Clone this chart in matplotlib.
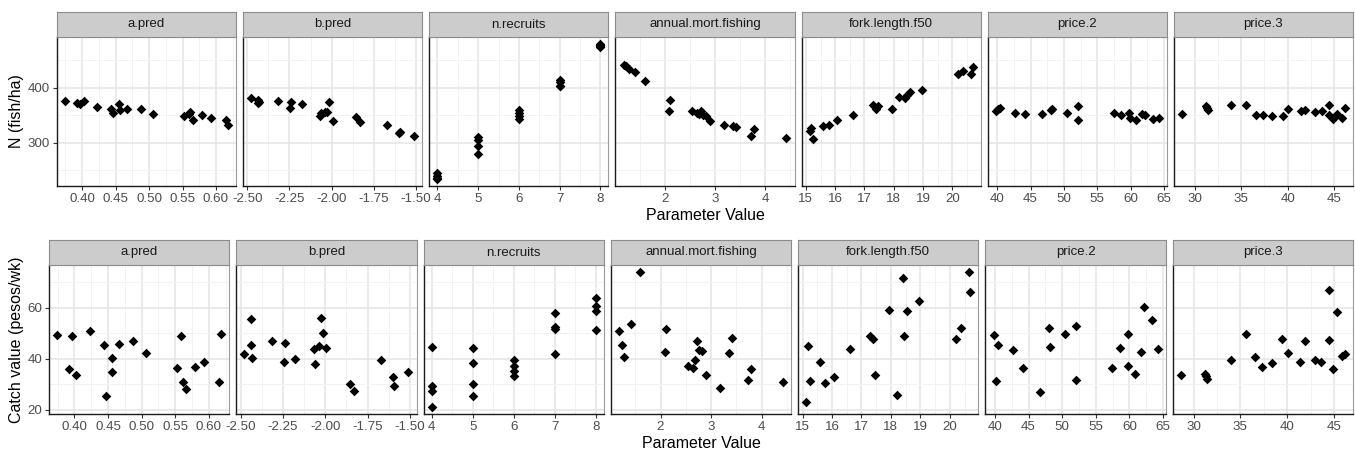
import matplotlib
matplotlib.use("Agg")
import matplotlib.pyplot as plt
from matplotlib.ticker import MultipleLocator, FormatStrFormatter

# parameter names (facet order)
params = ["a.pred", "b.pred", "n.recruits", "annual.mort.fishing",
          "fork.length.f50", "price.2", "price.3"]

# parameter values (same runs in both rows)
a_pred_x = [0.3745, 0.392, 0.396, 0.4025, 0.4225, 0.4435, 0.4465, 0.4555, 0.4565, 0.4665,
            0.4875, 0.506, 0.552, 0.559, 0.561, 0.5655, 0.579, 0.593, 0.6145, 0.618]
b_pred_x = [-2.477, -2.440, -2.436, -2.430, -2.317, -2.240, -2.244, -2.177, -2.069, -2.060,
            -2.037, -2.027, -2.014, -1.994, -1.853, -1.829, -1.669, -1.598, -1.594, -1.509]
n_recruits_x = [4, 4, 4, 4, 5, 5, 5, 5, 6, 6, 6, 6, 7, 7, 7, 7, 8, 8, 8, 8]
annual_x = [1.18, 1.235, 1.28, 1.41, 1.60, 2.10, 2.08, 2.55, 2.64, 2.68,
            2.73, 2.76, 2.81, 2.90, 3.18, 3.35, 3.41, 3.72, 3.78, 4.42]
fork_x = [15.13, 15.19, 15.25, 15.6, 15.78, 16.06, 16.6, 17.28, 17.4, 17.46,
          17.94, 18.19, 18.4, 18.44, 18.56, 18.96, 20.2, 20.36, 20.64, 20.69]
price2_x = [39.8, 40.1, 40.45, 42.74, 44.23, 46.65, 48.0, 48.15, 50.45, 52.1,
            52.05, 57.47, 58.55, 59.78, 59.86, 60.78, 61.65, 62.15, 63.32, 64.18]
price3_x = [28.65, 31.23, 31.37, 31.46, 33.95, 35.58, 36.6, 37.31, 38.34, 39.5, 40.09,
            41.41, 41.87, 42.97, 43.65, 44.49, 44.49, 44.9, 45.3, 45.85, 46.16]

# N (fish/ha)
a_pred_n = [375.4, 373.1, 370.7, 376.0, 364.7, 361.7, 355.1, 370.7, 359.3, 362.3,
            362.3, 353.3, 348.5, 352.1, 355.7, 341.3, 350.9, 346.1, 341.9, 332.9]
b_pred_n = [381.4, 377.2, 372.5, 374.9, 376.0, 374.3, 364.1, 371.3, 349.1, 353.9,
            355.7, 355.7, 373.7, 338.9, 346.7, 337.1, 332.9, 317.4, 319.8, 312.0]
n_recruits_n = [245, 240, 237, 234, 310, 306, 295, 280, 360, 355, 348, 343,
                415, 410, 404, 403, 480, 477, 474, 476]
annual_n = [441.9, 439.5, 434.7, 428.1, 412.0, 377.8, 357.5, 357.5, 355.1, 352.1,
            357.5, 350.9, 348.5, 339.5, 332.3, 330.5, 328.1, 312.0, 325.1, 309.6]
fork_n = [321.0, 327.0, 307.2, 330.0, 332.3, 341.3, 350.3, 368.9, 361.7, 367.7,
          361.7, 383.8, 382.0, 386.8, 391.6, 395.8, 425.7, 431.1, 425.7, 437.1]
price2_n = [358.1, 361.7, 364.1, 355.1, 352.7, 352.7, 359.3, 361.7, 355.1, 366.5,
            341.3, 355.1, 350.3, 355.1, 346.1, 341.3, 352.7, 350.3, 343.7, 346.1]
price3_n = [353.3, 367.7, 362.9, 359.3, 369.5, 369.5, 350.9, 350.9, 348.5, 348.5, 362.3,
            357.5, 359.9, 355.7, 357.5, 369.5, 350.9, 343.7, 353.3, 346.1, 362.9]

# Catch value (pesos/wk)
a_pred_catch = [49.3, 36.1, 48.8, 33.4, 50.9, 45.3, 25.4, 40.3, 34.7, 45.8,
                46.8, 42.2, 36.4, 48.8, 30.8, 27.9, 36.8, 38.8, 30.8, 49.7]
b_pred_catch = [41.7, 55.8, 45.3, 40.3, 46.8, 46.3, 38.7, 39.7, 43.7, 37.8,
                45.0, 56.2, 50.3, 44.2, 29.9, 27.2, 39.3, 32.8, 29.2, 34.7]
n_recruits_catch = [44.7, 29.2, 27.4, 20.9, 44.3, 38.3, 29.9, 25.3, 39.3, 37.1, 35.0, 33.2,
                    57.8, 52.4, 51.6, 41.7, 63.7, 60.8, 58.7, 51.2]
annual_catch = [50.8, 45.3, 40.8, 53.8, 74.2, 51.8, 42.8, 37.0, 36.3, 39.3,
                46.8, 43.3, 42.9, 33.4, 28.4, 42.2, 48.3, 31.8, 35.8, 30.8]
fork_catch = [22.9, 44.9, 31.3, 38.8, 30.4, 32.8, 43.8, 48.9, 47.6, 33.4,
              59.3, 25.9, 71.7, 48.8, 58.8, 62.8, 47.8, 52.2, 74.2, 66.3]
price2_catch = [49.2, 31.3, 45.3, 43.3, 36.3, 26.8, 52.2, 44.7, 49.7, 52.8,
                31.8, 36.3, 44.2, 49.7, 37.2, 33.8, 42.8, 60.3, 55.3, 43.8]
price3_catch = [33.4, 34.1, 33.2, 32.1, 39.3, 49.9, 40.8, 36.8, 38.3, 47.9, 42.2,
                38.8, 46.8, 39.3, 38.8, 47.4, 67.2, 35.8, 58.3, 41.1, 41.8]

xs = [a_pred_x, b_pred_x, n_recruits_x, annual_x, fork_x, price2_x, price3_x]
ns = [a_pred_n, b_pred_n, n_recruits_n, annual_n, fork_n, price2_n, price3_n]
catches = [a_pred_catch, b_pred_catch, n_recruits_catch, annual_catch,
           fork_catch, price2_catch, price3_catch]

# x tick spacing and label format per parameter
x_steps = [0.05, 0.25, 1, 1, 1, 5, 5]
x_fmts = ["%.2f", "%.2f", "%g", "%g", "%g", "%g", "%g"]

plt.rcParams["font.family"] = ["Liberation Sans", "DejaVu Sans"]
plt.rcParams["axes.unicode_minus"] = False

W, H = 1355, 455
fig = plt.figure(figsize=(W / 100, H / 100), dpi=100)


def box(x0, top, w, h):
    return [x0 / W, 1 - (top + h) / H, w / W, h / H]


def draw_row(ys, left, strip_top, ylabel, ystep, ylabel_y, xlabel_y):
    right = 1353
    gap = 7
    w = (right - left - 6 * gap) / 7
    strip_h = 25
    panel_h = 149
    first = None
    for i, name in enumerate(params):
        x0 = left + i * (w + gap)
        ax = fig.add_axes(box(x0, strip_top + strip_h, w, panel_h),
                          sharey=first)
        if first is None:
            first = ax
        ax.scatter(xs[i], ys[i], marker="D", s=24, color="black",
                   linewidths=0, zorder=3)
        ax.set_facecolor("white")
        ax.xaxis.set_major_locator(MultipleLocator(x_steps[i]))
        ax.xaxis.set_minor_locator(MultipleLocator(x_steps[i] / 2))
        ax.xaxis.set_major_formatter(FormatStrFormatter(x_fmts[i]))
        ax.yaxis.set_major_locator(MultipleLocator(ystep))
        ax.yaxis.set_minor_locator(MultipleLocator(ystep / 2))
        ax.grid(which="major", color="#E6E6E6", lw=1.2, zorder=0)
        ax.grid(which="minor", color="#F2F2F2", lw=0.7, zorder=0)
        ax.set_axisbelow(True)
        ax.tick_params(which="major", length=3, width=0.8, color="#333333",
                       labelsize=9.6, labelcolor="#4D4D4D", pad=2)
        ax.tick_params(which="minor", length=0)
        if i > 0:
            ax.tick_params(axis="y", which="both", left=False, labelleft=False)
        for s in ["top", "right"]:
            ax.spines[s].set_color("#9A9A9A")
            ax.spines[s].set_linewidth(0.8)
        for s in ["left", "bottom"]:
            ax.spines[s].set_color("#1A1A1A")
            ax.spines[s].set_linewidth(1.0)

        # facet strip
        sax = fig.add_axes(box(x0, strip_top, w, strip_h))
        sax.set_facecolor("#CCCCCC")
        sax.set_xticks([])
        sax.set_yticks([])
        for s in sax.spines.values():
            s.set_color("#8C8C8C")
            s.set_linewidth(0.8)
        sax.text(0.5, 0.5, name, ha="center", va="center", fontsize=9.5,
                 color="#1A1A1A", transform=sax.transAxes)

    fig.text(17 / W, 1 - ylabel_y / H, ylabel, rotation=90, ha="center",
             va="center", fontsize=11.5)
    fig.text((left + right) / 2 / W, 1 - xlabel_y / H, "Parameter Value",
             ha="center", va="center", fontsize=11.5)


draw_row(ns, 57, 12, "N (fish/ha)", 100, 111, 216)
draw_row(catches, 49, 240, "Catch value (pesos/wk)", 20, 340, 443)

fig.savefig("out.png", dpi=100)
plt.close()
